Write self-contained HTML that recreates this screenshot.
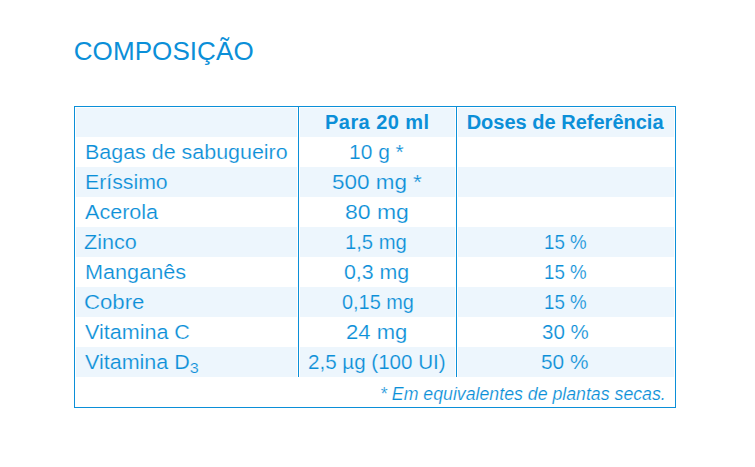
<!DOCTYPE html>
<html>
<head>
<meta charset="utf-8">
<style>

html,body{margin:0;padding:0;background:#fff;}
body{width:755px;height:467px;position:relative;overflow:hidden;font-family:"Liberation Sans",sans-serif;color:#0b8fd8;}
.t{position:absolute;white-space:nowrap;font-size:20px;line-height:30px;height:30px;transform-origin:0 0;}
.title{font-size:26px;}
.h{font-weight:bold;}
.f{font-style:italic;font-size:17.5px;}
.w{-webkit-text-stroke:0.18px #fff;}
.b{-webkit-text-stroke:0.18px #edf6fd;}
.box{position:absolute;left:74px;top:106px;width:600px;height:300px;border:1px solid #0b8fd8;}
.bg{position:absolute;background:#edf6fd;height:30px;}
.c1{left:76px;width:221px;}
.c2{left:300px;width:155px;}
.c3{left:458px;width:216px;}
.v{position:absolute;top:107px;width:1px;height:270px;background:#0b8fd8;}
sub{font-size:15px;vertical-align:-4px;line-height:0;}

</style>
</head>
<body>
<div class="box"></div>
<div class="bg c1" style="top:108px;height:29px"></div><div class="bg c2" style="top:108px;height:29px"></div><div class="bg c3" style="top:108px;height:29px"></div>
<div class="bg c1" style="top:167px"></div><div class="bg c2" style="top:167px"></div><div class="bg c3" style="top:167px"></div>
<div class="bg c1" style="top:227px"></div><div class="bg c2" style="top:227px"></div><div class="bg c3" style="top:227px"></div>
<div class="bg c1" style="top:287px"></div><div class="bg c2" style="top:287px"></div><div class="bg c3" style="top:287px"></div>
<div class="bg c1" style="top:347px"></div><div class="bg c2" style="top:347px"></div><div class="bg c3" style="top:347px"></div>
<div class="v" style="left:298px"></div>
<div class="v" style="left:456px"></div>
<div class="t title" style="left:73.78px;top:36.00px;letter-spacing:0.08px;">COMPOSIÇÃO</div>
<div class="t h" style="left:325.09px;top:107.00px;letter-spacing:0.43px;">Para 20 ml</div>
<div class="t h" style="left:466.64px;top:107.00px;letter-spacing:0.01px;">Doses de Referência</div>
<div class="t w" style="left:84.67px;top:137.00px;transform:scaleX(1.0722);">Bagas de sabugueiro</div>
<div class="t w" style="left:349.21px;top:137.00px;transform:scaleX(1.0479);">10 g *</div>
<div class="t b" style="left:84.83px;top:167.00px;transform:scaleX(1.0629);">Eríssimo</div>
<div class="t b" style="left:331.89px;top:167.00px;transform:scaleX(1.1222);">500 mg *</div>
<div class="t w" style="left:84.58px;top:197.00px;transform:scaleX(1.0782);">Acerola</div>
<div class="t w" style="left:345.34px;top:197.00px;transform:scaleX(1.1471);">80 mg</div>
<div class="t b" style="left:84.34px;top:227.00px;transform:scaleX(1.0788);">Zinco</div>
<div class="t b" style="left:345.43px;top:227.00px;transform:scaleX(1.0116);">1,5 mg</div>
<div class="t b" style="left:544.20px;top:227.00px;transform:scaleX(0.9355);">15 %</div>
<div class="t w" style="left:84.83px;top:257.00px;transform:scaleX(1.0819);">Manganês</div>
<div class="t w" style="left:344.45px;top:257.00px;transform:scaleX(1.0670);">0,3 mg</div>
<div class="t w" style="left:544.19px;top:257.00px;transform:scaleX(0.9353);">15 %</div>
<div class="t b" style="left:83.95px;top:287.00px;transform:scaleX(1.1093);">Cobre</div>
<div class="t b" style="left:341.84px;top:287.00px;transform:scaleX(0.9937);">0,15 mg</div>
<div class="t b" style="left:544.20px;top:287.00px;transform:scaleX(0.9355);">15 %</div>
<div class="t w" style="left:84.90px;top:317.00px;transform:scaleX(1.0765);">Vitamina C</div>
<div class="t w" style="left:346.46px;top:317.00px;transform:scaleX(1.1019);">24 mg</div>
<div class="t w" style="left:541.98px;top:317.00px;transform:scaleX(1.0248);">30 %</div>
<div class="t b" style="left:84.90px;top:347.00px;transform:scaleX(1.0742);">Vitamina D<sub>3</sub></div>
<div class="t b" style="left:308.16px;top:347.00px;transform:scaleX(1.0285);">2,5 µg (100 UI)</div>
<div class="t b" style="left:541.46px;top:347.00px;transform:scaleX(1.0392);">50 %</div>
<div class="t f w" style="left:379.81px;top:378.50px;transform:scaleX(1.0129);">* Em equivalentes de plantas secas.</div>
</body>
</html>
